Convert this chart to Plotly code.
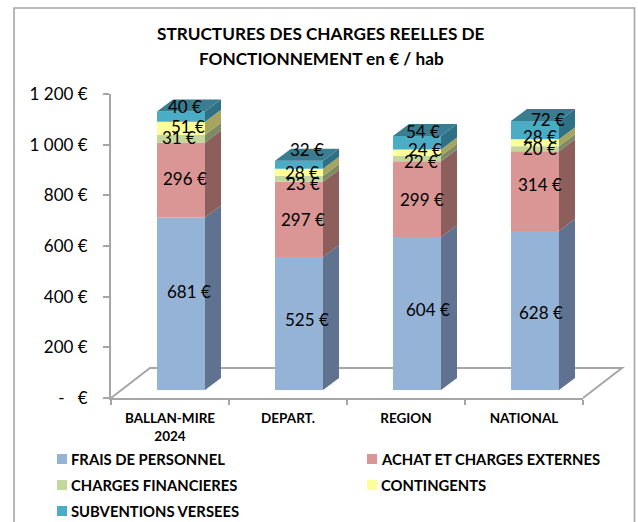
import plotly.graph_objects as go

TITLE_LINES = ["STRUCTURES DES CHARGES REELLES DE", "FONCTIONNEMENT en € / hab"]
categories = ["BALLAN-MIRE<br>2024", "DEPART.", "REGION", "NATIONAL"]
series_names = ["FRAIS DE PERSONNEL", "ACHAT ET CHARGES EXTERNES", "CHARGES FINANCIERES",
                "CONTINGENTS", "SUBVENTIONS VERSEES"]
frais_personnel = [681, 525, 604, 628]
achat_charges = [296, 297, 299, 314]
charges_financieres = [31, 23, 22, 20]
contingents = [51, 28, 24, 28]
subventions = [40, 32, 54, 72]
y_ticks = [0, 200, 400, 600, 800, 1000, 1200]
y_tick_labels = ["-   €", "200 €", "400 €", "600 €", "800 €", "1 000 €", "1 200 €"]

all_series = [frais_personnel, achat_charges, charges_financieres, contingents, subventions]

# Styling / layout
FONT = "Lato, Carlito, Calibri, sans-serif"
FRONT = ["#95B3D7", "#D99694", "#C3D69B", "#FFFF99", "#4BACC6"]
SIDE = ["#5F7390", "#8C5E5C", "#7E8A63", "#A5A560", "#307084"]
TOP = "#3A7C90"
GREY = "#A6A6A6"
W, H = 638, 522
L, R, T, B = 111, 583, 94, 398
YMAX = 1200
PX_X = (R - L) / 4           # px per category
PX_Y = (B - T) / YMAX        # px per value unit
BAR_W = 48 / PX_X
BAR_OFF = 70 / PX_X          # bar centre inside its category
DEPTH_X = 16 / PX_X
DEPTH_Y = 12 / PX_Y
LIFT = 8 / PX_Y              # bars stand on the floor, in front of the axis line

# label nudges in px (right, down), per series then per bar
NUDGE_X = [[8, 8, 11, 6], [4, 4, 5, 5], [-2, 4, 4, 5], [7, 3, 8, 5], [4, 8, 6, 13]]
NUDGE_Y = [[-12, -4, -4, 2], [-1, 0, 0, -7], [-1, 5, 3, 0], [-2, 0, -3, -6], [-10, -15, -11, -11]]

xp = lambda px: (px - L) / (R - L)
yp = lambda py: (B - py) / (B - T)

fig = go.Figure()
n = len(categories)
centres = [i + BAR_OFF for i in range(n)]
bases = [[LIFT] * n]
for s in all_series:
    bases.append([b + v for b, v in zip(bases[-1], s)])

for k, s in enumerate(all_series):
    fig.add_bar(x=centres, y=s, base=bases[k], width=BAR_W, name=series_names[k],
                marker=dict(color=FRONT[k], line_width=0), showlegend=False, hoverinfo="skip")

# side faces
for k, s in enumerate(all_series):
    xs, ys = [], []
    for i in range(n):
        xr = centres[i] + BAR_W / 2
        lo, hi = bases[k][i], bases[k + 1][i]
        xs += [xr, xr + DEPTH_X, xr + DEPTH_X, xr, xr, None]
        ys += [lo, lo + DEPTH_Y, hi + DEPTH_Y, hi, lo, None]
    fig.add_scatter(x=xs, y=ys, mode="lines", fill="toself", fillcolor=SIDE[k], line_width=0,
                    cliponaxis=False, showlegend=False, hoverinfo="skip")

# top faces
xs, ys = [], []
for i in range(n):
    xl, xr = centres[i] - BAR_W / 2, centres[i] + BAR_W / 2
    top = bases[-1][i]
    xs += [xl, xr, xr + DEPTH_X, xl + DEPTH_X, xl, None]
    ys += [top, top, top + DEPTH_Y, top + DEPTH_Y, top, None]
fig.add_scatter(x=xs, y=ys, mode="lines", fill="toself", fillcolor=TOP, line_width=0,
                cliponaxis=False, showlegend=False, hoverinfo="skip")

annotations = []
for k, s in enumerate(all_series):
    for i, v in enumerate(s):
        annotations.append(dict(x=centres[i], y=bases[k][i] + v / 2, text=f"{v} €", showarrow=False,
                                xshift=NUDGE_X[k][i], yshift=-NUDGE_Y[k][i],
                                font=dict(family=FONT, size=17, color="black")))

for line, ty in zip(TITLE_LINES, [34, 58.5]):
    annotations.append(dict(x=xp(321), y=yp(ty), xref="paper", yref="paper", text=f"<b>{line}</b>",
                            showarrow=False, align="center", yanchor="middle",
                            font=dict(family=FONT, size=17.2, color="black")))

shapes = [
    dict(type="rect", xref="paper", yref="paper", x0=xp(14), x1=xp(634.5), y0=yp(8), y1=yp(530),
         line=dict(color=GREY, width=1.6), layer="below"),
    dict(type="path", xref="paper", yref="paper", layer="below", line=dict(color=GREY, width=2),
         path=f"M {xp(111)} {yp(398)} L {xp(150)} {yp(368)} L {xp(622)} {yp(368)} L {xp(583)} {yp(398)}"),
]

legend_slots = [(57, 459), (367, 459), (57, 485), (367, 485), (57, 511)]
for (lx, ly), name, col in zip(legend_slots, series_names, FRONT):
    shapes.append(dict(type="rect", xref="paper", yref="paper", x0=xp(lx), x1=xp(lx + 10),
                       y0=yp(ly - 5), y1=yp(ly + 5), fillcolor=col, line_width=0))
    annotations.append(dict(x=xp(lx + 12), y=yp(ly), xref="paper", yref="paper", text=f"<b>{name}</b>",
                            showarrow=False, xanchor="left", yanchor="middle",
                            font=dict(family=FONT, size=14.8, color="black")))

fig.update_layout(
    width=W, height=H, autosize=False, paper_bgcolor="white", plot_bgcolor="rgba(0,0,0,0)",
    margin=dict(l=L, r=W - R, t=T, b=H - B, autoexpand=False),
    barmode="overlay", showlegend=False, annotations=annotations, shapes=shapes,
    font=dict(family=FONT, color="black"),
    xaxis=dict(range=[0, n], tickmode="array", tickvals=[i + 0.5 for i in range(n)], ticktext=[f"<b>{c}</b>" for c in categories],
               ticks="", showgrid=False, zeroline=False, showline=True, linecolor=GREY, linewidth=2,
               tickfont=dict(family=FONT, size=13.5, color="black"), ticklabelstandoff=7,
               minor=dict(tickmode="array", tickvals=list(range(n + 1)), ticks="outside", ticklen=5,
                          tickcolor=GREY, tickwidth=1.5, showgrid=False)),
    yaxis=dict(range=[0, YMAX], tickmode="array", tickvals=y_ticks, ticktext=y_tick_labels, ticks="outside",
               ticklen=6, tickcolor=GREY, tickwidth=1.5, showgrid=False, zeroline=False, showline=True,
               linecolor=GREY, linewidth=2, tickfont=dict(family=FONT, size=17, color="black"),
               ticklabelstandoff=12),
)
fig.write_html("out.html", config={"displayModeBar": False},
               post_script="document.body.style.margin='0';document.body.style.overflow='hidden';")
